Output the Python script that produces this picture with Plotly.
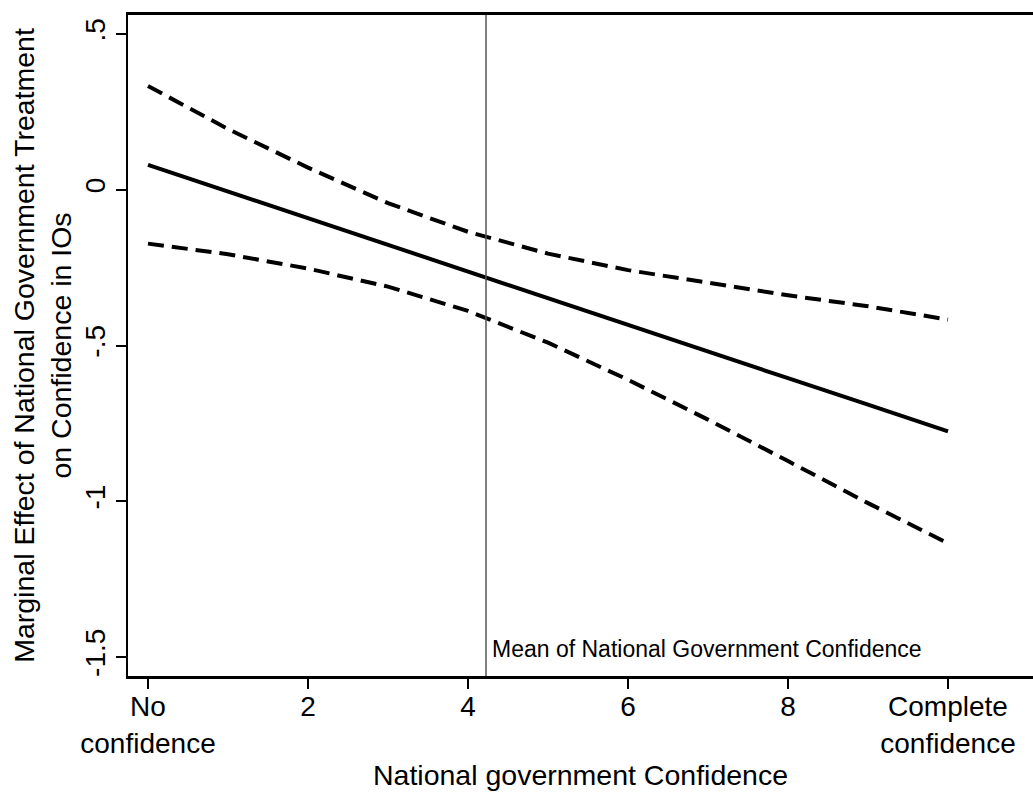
import plotly.graph_objects as go

# National government confidence scale (0 = no confidence, 10 = complete confidence)
confidence = [0, 1, 2, 3, 4, 5, 6, 7, 8, 9, 10]
marginal_effect = [0.080, -0.006, -0.091, -0.177, -0.262, -0.348, -0.434, -0.519, -0.605, -0.690, -0.776]
ci_upper = [0.333, 0.195, 0.071, -0.043, -0.135, -0.205, -0.258, -0.300, -0.339, -0.374, -0.417]
ci_lower = [-0.173, -0.207, -0.253, -0.311, -0.389, -0.491, -0.610, -0.738, -0.871, -1.006, -1.135]
mean_confidence = 4.225

x_tickvals = [0, 2, 4, 6, 8, 10]
x_ticktext = ["No<br>confidence", "2", "4", "6", "8", "Complete<br>confidence"]
y_tickvals = [-1.5, -1, -0.5, 0, 0.5]
y_ticktext = ["-1.5", "-1", "-.5", "0", ".5"]

FONT = "Liberation Sans, Arial, Helvetica, sans-serif"

fig = go.Figure()
fig.add_trace(go.Scatter(x=confidence, y=ci_upper, mode="lines",
                         line=dict(color="black", width=4, dash="16px,8px"),
                         showlegend=False))
fig.add_trace(go.Scatter(x=confidence, y=ci_lower, mode="lines",
                         line=dict(color="black", width=4, dash="16px,8px"),
                         showlegend=False))
fig.add_trace(go.Scatter(x=confidence, y=marginal_effect, mode="lines",
                         line=dict(color="black", width=4),
                         showlegend=False))

fig.add_shape(type="line", xref="x", yref="paper",
              x0=mean_confidence, x1=mean_confidence, y0=0, y1=1,
              line=dict(color="#555555", width=1.5))
fig.add_annotation(x=mean_confidence, y=-1.475, xref="x", yref="y",
                   text="Mean of National Government Confidence",
                   showarrow=False, xanchor="left", yanchor="middle", xshift=4,
                   font=dict(family=FONT, size=23, color="black"))

fig.update_layout(
    width=1033, height=792,
    margin=dict(l=128, r=0, t=15, b=116),
    paper_bgcolor="white", plot_bgcolor="white",
    font=dict(family=FONT, color="black"),
    xaxis=dict(
        range=[-0.25, 11.0625],
        tickvals=x_tickvals, ticktext=x_ticktext,
        ticks="outside", ticklen=10, tickwidth=1.5, tickcolor="black",
        ticklabelstandoff=-6,
        showline=True, linecolor="black", linewidth=2.5, mirror=True,
        showgrid=False, zeroline=False, automargin=False,
        tickfont=dict(size=28),
        title=dict(text="National government Confidence", font=dict(size=28.5), standoff=8),
    ),
    yaxis=dict(
        range=[-1.561, 0.561],
        tickvals=y_tickvals, ticktext=y_ticktext, tickangle=-90,
        ticks="outside", ticklen=10, tickwidth=1.5, tickcolor="black",
        showline=True, linecolor="black", linewidth=2, mirror=False,
        showgrid=False, zeroline=False, automargin=False,
        tickfont=dict(size=28),
        title=dict(text="Marginal Effect of National Government Treatment<br>on Confidence in IOs",
                   font=dict(size=28.5), standoff=0),
    ),
)

fig.write_html("out.html")
